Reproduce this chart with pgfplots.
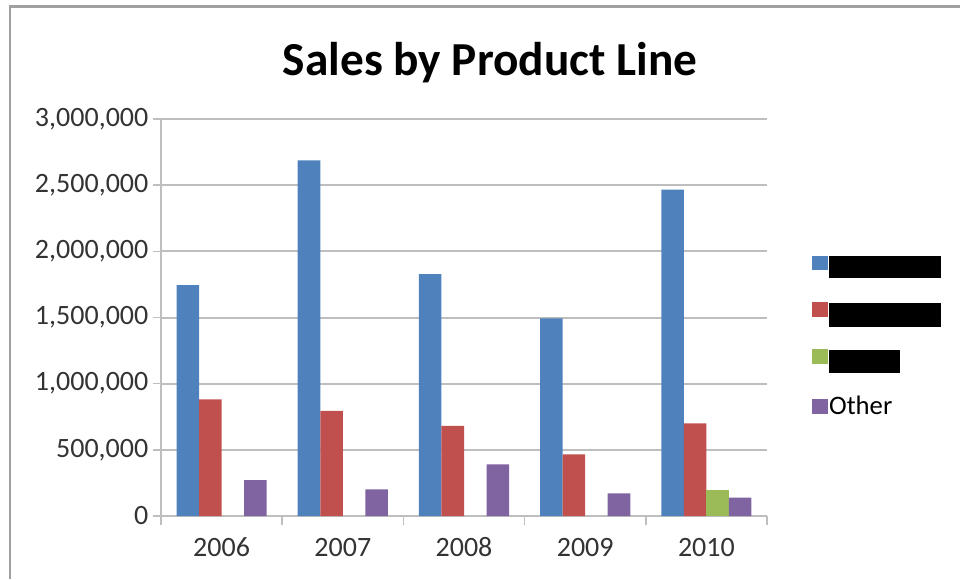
\documentclass[border=0pt]{standalone}
\usepackage{pgfplots}
\pgfplotsset{compat=1.18}
\usepackage{fontspec}
\setmainfont{Carlito}
\definecolor{xblue}{RGB}{79,129,189}
\definecolor{xred}{RGB}{192,80,77}
\definecolor{xgreen}{RGB}{155,187,89}
\definecolor{xpurple}{RGB}{128,100,162}
\definecolor{gridgray}{RGB}{190,190,190}
\definecolor{framegray}{RGB}{160,160,160}
\begin{document}
\begin{tikzpicture}
\path[use as bounding box] (0,0) rectangle (720pt,434.25pt);
\draw[framegray, line width=1.8pt] (7.5pt,0) -- (7.5pt,429.5pt) -- (720pt,429.5pt);
\begin{axis}[
  at={(120.75pt,47.25pt)}, anchor=south west,
  scale only axis, width=454.5pt, height=297.75pt,
  ybar=0pt, bar width=0.186,
  xmin=-0.5, xmax=4.5, ymin=0, ymax=3000000,
  xtick={0,1,2,3,4},
  xticklabels={2006,2007,2008,2009,2010},
  every major x tick/.append style={draw=none},
  minor xtick={-0.5,0.5,1.5,2.5,3.5,4.5},
  ytick={0,500000,...,3000000},
  scaled y ticks=false,
  yticklabel style={/pgf/number format/.cd, fixed, 1000 sep={,}, assume math mode=true},
  ticklabel style={font=\fontsize{21}{24}\selectfont, text=black!80},
  xticklabel style={text height=15pt, text depth=0pt, yshift=-6pt},
  axis lines*=left,
  axis line style={gridgray, line width=1.2pt},
  tick style={gridgray, line width=1.2pt},
  tick align=outside,
  major tick length=6pt, minor tick length=7pt,
  ymajorgrids, major grid style={gridgray, line width=1.5pt},
  title={\bfseries Sales by Product Line},
  title style={font=\fontsize{35.5}{40}\selectfont, at={(0.543,1.09)}, anchor=base},
  legend style={draw=none, fill=none, at={(1.068,0.453)}, anchor=west,
    font=\fontsize{20}{24}\selectfont, row sep=24pt,
    nodes={inner xsep=1pt, inner ysep=0pt, anchor=west}, cells={anchor=west}},
  legend image code/.code={\fill[#1] (0pt,-5.6pt) rectangle (11.5pt,5.6pt);},
  legend cell align=left,
]
\addplot[fill=xblue, draw=none] coordinates {(0,1745000) (1,2687000) (2,1828000) (3,1493000) (4,2467000)};
\addlegendentry{\rule[-8pt]{84pt}{16.5pt}}
\addplot[fill=xred, draw=none] coordinates {(0,881000) (1,795000) (2,682000) (3,466000) (4,700000)};
\addlegendentry{\rule[-9pt]{84pt}{18pt}}
\addplot[fill=xgreen, draw=none] coordinates {(4,196000)};
\addlegendentry{\rule[-8pt]{53pt}{17pt}}
\addplot[fill=xpurple, draw=none] coordinates {(0,272000) (1,201000) (2,390000) (3,171000) (4,138000)};
\addlegendentry{Other}
\end{axis}
\end{tikzpicture}
\end{document}
